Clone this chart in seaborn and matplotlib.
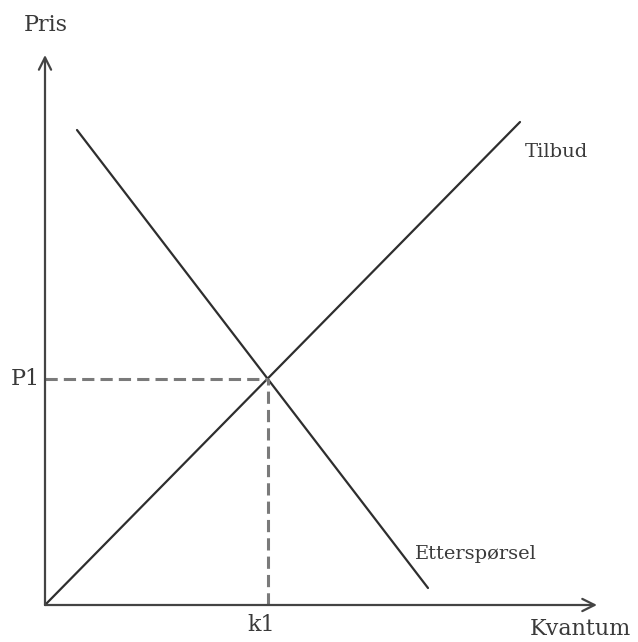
import matplotlib
matplotlib.use('Agg')
import matplotlib.pyplot as plt
import pandas as pd
import seaborn as sb

sb.set_style('white')
plt.rcParams['font.family'] = ['DejaVu Serif', 'Liberation Serif']

# quantity / price values of the two curves
supply_q = [0, 475]
supply_p = [0, 483]
demand_q = [32, 383]
demand_p = [475, 17]
eq_q = 222.5
eq_p = 226.3

supply = pd.DataFrame({'Kvantum': supply_q, 'Pris': supply_p})
demand = pd.DataFrame({'Kvantum': demand_q, 'Pris': demand_p})

fig = plt.figure(figsize=(6.38, 6.42), dpi=100)
ax = fig.add_axes([0, 0, 1, 1])

line_col = '#2e2e2e'
sb.lineplot(data=supply, x='Kvantum', y='Pris', ax=ax, color=line_col, lw=1.6)
sb.lineplot(data=demand, x='Kvantum', y='Pris', ax=ax, color=line_col, lw=1.6)

# dashed guides to the equilibrium
ax.plot([0, eq_q], [eq_p, eq_p], ls=(0, (4, 2)), color='#7a7a7a', lw=2.2)
ax.plot([eq_q, eq_q], [0, eq_p], ls=(0, (4, 2)), color='#7a7a7a', lw=2.2)

# axes with arrows
ax.annotate('', xy=(552, 0), xytext=(0, 0),
            arrowprops=dict(arrowstyle='->', color='#444444', lw=1.6,
                            mutation_scale=22, shrinkA=0, shrinkB=0))
ax.annotate('', xy=(0, 550), xytext=(0, 0),
            arrowprops=dict(arrowstyle='->', color='#444444', lw=1.6,
                            mutation_scale=22, shrinkA=0, shrinkB=0))

txt = '#3a3a3a'
ax.text(1, 580, 'Pris', ha='center', va='center', fontsize=16, color=txt)
ax.text(535, -24, 'Kvantum', ha='center', va='center', fontsize=16, color=txt)
ax.text(-5, eq_p, 'P1', ha='right', va='center', fontsize=16, color=txt)
ax.text(eq_q - 6, -20, 'k1', ha='center', va='center', fontsize=16, color=txt)
ax.text(480, 453, 'Tilbud', ha='left', va='center', fontsize=14, color=txt)
ax.text(370, 51, 'Etterspørsel', ha='left', va='center', fontsize=14, color=txt)

ax.set_xlim(-45, 593)
ax.set_ylim(-37, 605)
ax.axis('off')

fig.savefig('out.png', dpi=100)
